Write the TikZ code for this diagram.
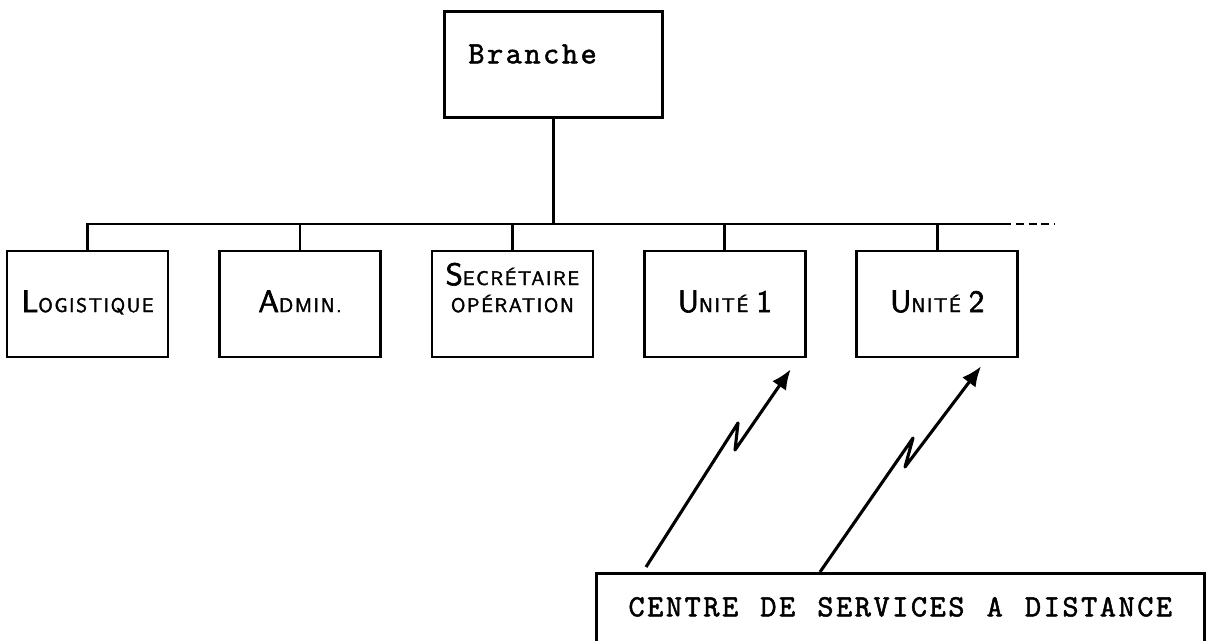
\documentclass[tikz,border=0pt]{standalone}
\usepackage{fontspec}
\newfontfamily\typew{lmmono10-regular.otf}[LetterSpace=8, WordSpace=1.18, FakeBold=1.5]
\newfontfamily\gothic{lmsans10-regular.otf}[LetterSpace=8, FakeBold=2]
\newcommand\upinit[1]{{\fontsize{22}{24}\selectfont #1}}
\usetikzlibrary{positioning, arrows.meta}

\begin{document}
\begin{tikzpicture}[node distance={53.1mm}, line width=1.9pt,
    orgbox/.style = {draw, minimum width=40.25mm, inner sep=0pt, text height=15.25mm, text depth=11.25mm, align=center, font=\gothic\fontsize{14}{19.2}\selectfont},
    titlebox/.style = {draw, anchor=north west, inner ysep=0pt, font=\typew\fontsize{22}{26}\selectfont},
    radio/.style = {->, >={Latex[length=5mm, width=4.2mm]}, line width=2.2pt, line join=round}]
\useasboundingbox (0,0) rectangle (30.225,-16.025);
\clip (0,0) rectangle (30.225,-16.025);

\node[titlebox, align=left, inner xsep=6mm, text width=42.5mm, text height=13mm, text depth=13.5mm] (branche) at (11.075,-0.25) {Branche};
\node[orgbox] (logist) at (2.19,-7.6) {\upinit{L}OGISTIQUE};
\node[orgbox] (admin)  [right of=logist] {\upinit{A}DMIN.};
\node[orgbox] (secr)   [right of=admin] {\upinit{S}ECRÉTAIRE\\OPÉRATION};
\node[orgbox] (unite1) [right of=secr] {\upinit{U}NITÉ \upinit{1}};
\node[orgbox] (unite2) [right of=unite1] {\upinit{U}NITÉ \upinit{2}};
\node[titlebox, inner xsep=0pt, minimum width=152mm, text height=10.75mm, text depth=25mm] (centre) at (14.875,-14.3) {CENTRE DE SERVICES A DISTANCE};

\coordinate (busend) at (25.075,-5.6);
\coordinate (dotend) at (26.375,-5.6);
\coordinate (in1)  at ([shift={(-0.4,-0.275)}]unite1.south east);
\coordinate (in2)  at ([shift={(-0.95,-0.2)}]unite2.south east);
\coordinate (out1) at ([shift={(1.275,0.125)}]centre.north west);
\coordinate (out2) at ([xshift=56.25mm]centre.north west);

\draw (branche.south) -- (branche.south |- busend);
\draw (logist.north) |- (busend);
\foreach \n in {admin, secr, unite1, unite2}
  \draw (\n.north) -- (\n.north |- busend);
\draw[dash pattern=on 2mm off 1.2mm, line width=1.4pt] (busend) -- (dotend);

\draw[radio] (out1) -- (18.45,-10.575) -- (18.375,-11.25) -- (in1);
\draw[radio] (out2) -- (22.825,-10.95) -- (22.625,-11.675) -- (in2);

\end{tikzpicture}
\end{document}
